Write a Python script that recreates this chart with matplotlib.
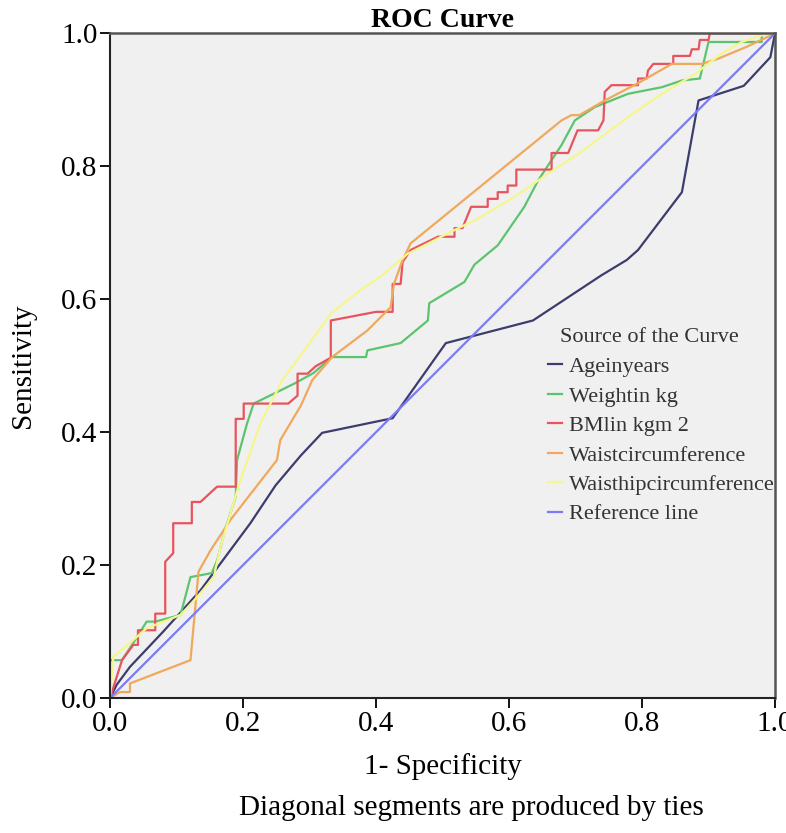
import matplotlib
matplotlib.use("Agg")
import matplotlib.pyplot as plt

plt.rcParams['font.family'] = ['Liberation Serif', 'DejaVu Serif']

# ROC curve points (1 - specificity, sensitivity)
age_x = [0, 0.01, 0.03, 0.08, 0.136, 0.211, 0.249, 0.287, 0.319, 0.425, 0.505, 0.636, 0.739, 0.777, 0.794, 0.86, 0.885, 0.953, 0.993, 1.0]
age_y = [0, 0.02, 0.047, 0.10, 0.162, 0.263, 0.32, 0.365, 0.399, 0.421, 0.534, 0.568, 0.636, 0.659, 0.674, 0.761, 0.899, 0.921, 0.964, 1.0]

wt_x = [0, 0, 0.018, 0.035, 0.055, 0.068, 0.106, 0.121, 0.153, 0.161, 0.173, 0.189, 0.191, 0.206, 0.216, 0.277, 0.306, 0.334, 0.385, 0.387,
        0.437, 0.478, 0.48, 0.533, 0.548, 0.583, 0.623, 0.644, 0.679, 0.699, 0.729, 0.779, 0.83, 0.86, 0.887, 0.9, 0.98, 0.98, 1.0]
wt_y = [0, 0.057, 0.057, 0.083, 0.115, 0.115, 0.125, 0.182, 0.188, 0.207, 0.253, 0.303, 0.358, 0.413, 0.443, 0.473, 0.489, 0.513, 0.513, 0.523,
        0.534, 0.568, 0.594, 0.626, 0.652, 0.681, 0.739, 0.779, 0.832, 0.869, 0.889, 0.909, 0.919, 0.929, 0.932, 0.987, 0.987, 1.0, 1.0]

bmi_x = [0, 0.018, 0.035, 0.042, 0.042, 0.068, 0.068, 0.083, 0.083, 0.095, 0.095, 0.123, 0.123, 0.136, 0.161, 0.189, 0.189, 0.201, 0.201, 0.268,
         0.282, 0.282, 0.297, 0.309, 0.332, 0.332, 0.40, 0.425, 0.425, 0.437, 0.44, 0.452, 0.493, 0.518, 0.518, 0.53, 0.543, 0.568, 0.568, 0.583,
         0.583, 0.598, 0.598, 0.611, 0.611, 0.664, 0.664, 0.689, 0.703, 0.734, 0.742, 0.744, 0.754, 0.794, 0.794, 0.807, 0.809, 0.817, 0.847, 0.847,
         0.872, 0.875, 0.885, 0.887, 0.9, 0.902, 1.0]
bmi_y = [0, 0.057, 0.08, 0.08, 0.102, 0.102, 0.127, 0.127, 0.205, 0.218, 0.263, 0.263, 0.295, 0.295, 0.318, 0.318, 0.42, 0.42, 0.443, 0.443,
         0.455, 0.488, 0.488, 0.499, 0.512, 0.568, 0.581, 0.581, 0.623, 0.623, 0.656, 0.674, 0.694, 0.694, 0.707, 0.707, 0.739, 0.739, 0.751, 0.751,
         0.761, 0.761, 0.771, 0.771, 0.795, 0.795, 0.82, 0.82, 0.854, 0.854, 0.869, 0.912, 0.922, 0.922, 0.932, 0.932, 0.944, 0.954, 0.954, 0.966,
         0.966, 0.976, 0.976, 0.99, 0.99, 1.0, 1.0]

wc_x = [0, 0.015, 0.03, 0.03, 0.121, 0.133, 0.151, 0.181, 0.216, 0.251, 0.256, 0.287, 0.304, 0.334, 0.387, 0.422, 0.427, 0.44, 0.452,
        0.679, 0.694, 0.706, 0.744, 0.794, 0.845, 0.89, 0.915, 0.958, 1.0]
wc_y = [0, 0.009, 0.009, 0.022, 0.057, 0.19, 0.222, 0.268, 0.313, 0.358, 0.388, 0.44, 0.478, 0.513, 0.553, 0.588, 0.623, 0.659, 0.684,
        0.869, 0.877, 0.877, 0.899, 0.925, 0.954, 0.954, 0.962, 0.98, 1.0]

wh_x = [0, 0.005, 0.03, 0.055, 0.106, 0.131, 0.156, 0.166, 0.196, 0.226, 0.259, 0.292, 0.332, 0.377, 0.407, 0.447, 0.508, 0.558,
        0.608, 0.659, 0.709, 0.779, 0.83, 0.88, 0.92, 0.95, 0.98, 1.0]
wh_y = [0, 0.062, 0.083, 0.105, 0.125, 0.152, 0.182, 0.227, 0.328, 0.413, 0.478, 0.523, 0.578, 0.614, 0.634, 0.668, 0.699, 0.724,
        0.754, 0.789, 0.822, 0.874, 0.909, 0.939, 0.97, 0.987, 0.997, 1.0]

ref_x = [0, 1]
ref_y = [0, 1]

labels = ['Ageinyears', 'Weightin kg', 'BMlin kgm 2', 'Waistcircumference', 'Waisthipcircumference', 'Reference line']
colors = ['#3c3c6e', '#5cc46e', '#e8545e', '#f0a85c', '#f6f68e', '#7c7cf2']
ticks = [0.0, 0.2, 0.4, 0.6, 0.8, 1.0]

fig = plt.figure(figsize=(7.86, 8.33), dpi=100)
ax = fig.add_axes([0.140, 0.162, 0.846, 0.798])
ax.set_facecolor('#f0f0f0')

series = [(age_x, age_y), (wt_x, wt_y), (bmi_x, bmi_y), (wc_x, wc_y), (wh_x, wh_y), (ref_x, ref_y)]
for (xs, ys), lab, c in zip(series, labels, colors):
    ax.plot(xs, ys, color=c, lw=1.6, label=lab)

ax.set_xlim(0, 1)
ax.set_ylim(0, 1)
ax.set_xticks(ticks)
ax.set_yticks(ticks)
ax.set_xticklabels([f'{t:.1f}' for t in ticks])
ax.set_yticklabels([f'{t:.1f}' for t in ticks])
ax.tick_params(direction='out', length=7, width=1.3, labelsize=21, pad=2)

for s in ['left', 'bottom']:
    ax.spines[s].set_linewidth(1.5)
    ax.spines[s].set_color('#222222')
for s in ['top', 'right']:
    ax.spines[s].set_linewidth(1.8)
    ax.spines[s].set_color('#555555')

ax.set_xlabel('1- Specificity', fontsize=21, labelpad=12)
ax.set_ylabel('Sensitivity', fontsize=21, labelpad=18)
ax.set_title('ROC Curve', fontsize=20, fontweight='bold', pad=2)

# legend without title; the title is placed over the label column
leg = ax.legend(loc='upper left', bbox_to_anchor=(0.645, 0.527),
                frameon=False, fontsize=16, handlelength=0.65,
                handletextpad=0.3, labelspacing=0.40, borderaxespad=0)
for t in leg.get_texts():
    t.set_color('#333333')
ax.text(0.677, 0.543, 'Source of the Curve', transform=ax.transAxes, fontsize=16,
        color='#333333', ha='left', va='center')

fig.text(0.60, 0.030, 'Diagonal segments are produced by ties', fontsize=21, ha='center', va='center')

fig.savefig('out.png', dpi=100)
